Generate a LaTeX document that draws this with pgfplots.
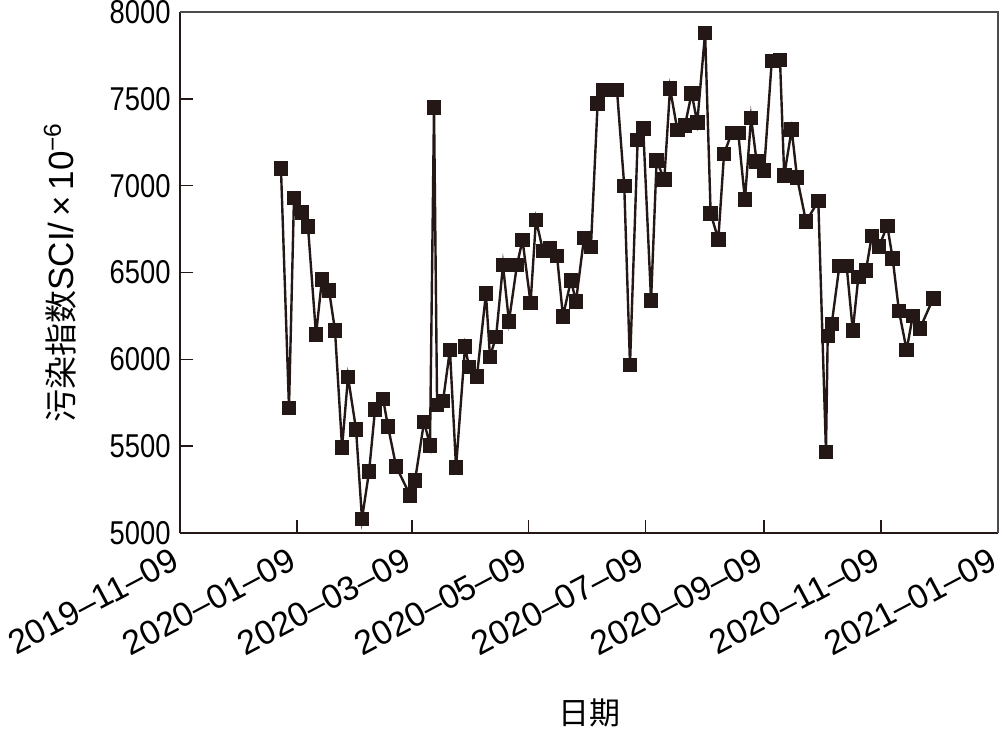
\documentclass[border=0pt]{standalone}
\usepackage{fontspec}
\setmainfont{Liberation Sans}
\newfontfamily\narrowfont{Liberation Sans}[FakeStretch=0.83]
\newfontfamily\cjk{Noto Sans CJK SC}
\usepackage{pgfplots}
\pgfplotsset{compat=1.18}
\definecolor{ink}{HTML}{231815}
\pgfplotstableread{
d v
52.7 7100
56.9 5720
59.5 6930
63.7 6845
66.8 6765
71.0 6142
74.1 6460
77.8 6397
80.9 6168
84.6 5493
87.7 5899
91.9 5597
95.0 5082
98.7 5354
101.8 5710
106.0 5772
108.6 5613
112.8 5384
120.1 5217
122.7 5304
127.4 5640
130.5 5505
132.6 7451
134.2 5737
137.3 5761
140.9 6054
144.1 5378
148.8 6073
150.9 5957
155.0 5902
159.7 6379
161.8 6015
165.0 6130
168.6 6543
171.7 6218
175.9 6543
178.8 6687
183.0 6324
185.8 6804
189.5 6625
193.1 6638
196.8 6596
199.9 6248
204.1 6455
206.7 6333
210.9 6699
214.5 6648
218.0 7473
221.0 7552
224.5 7552
228.1 7552
231.9 6999
234.9 5969
238.9 7264
241.8 7328
245.9 6339
248.8 7145
252.8 7035
255.8 7560
259.6 7322
263.6 7348
267.1 7532
270.0 7363
274.1 7879
277.0 6840
281.0 6691
284.0 7184
288.0 7304
291.4 7304
294.9 6920
298.1 7391
301.0 7139
304.9 7089
308.9 7719
313.2 7725
315.4 7059
319.3 7323
322.1 7047
326.8 6793
333.2 6912
337.2 5468
338.1 6136
340.2 6204
344.2 6537
348.0 6537
351.2 6166
354.1 6474
358.1 6513
361.1 6710
364.9 6650
369.2 6769
372.0 6582
375.3 6278
379.3 6054
382.5 6250
386.3 6179
393.2 6351
}\sci
\begin{document}
\begin{tikzpicture}
\begin{axis}[
  scale only axis, width=409pt, height=260.5pt,
  at={(0,0)}, anchor=south west,
  xmin=0, xmax=427, ymin=5000, ymax=8000,
  axis x line*=bottom, axis y line*=left,
  axis line style={line width=1pt, ink},
  tick align=inside,
  major tick length=6.5pt,
  tick style={line width=0.8pt, ink},
  xtick={0,61,121,182,243,305,366,427},
  xticklabels={2019–11–09,2020–01–09,2020–03–09,2020–05–09,2020–07–09,2020–09–09,2020–11–09,2021–01–09},
  ytick={5000,5500,6000,6500,7000,7500,8000},
  /pgf/number format/assume math mode=true,
  /pgf/number format/1000 sep={},
  xticklabel style={anchor=north east, inner sep=0pt, text depth=0pt, xshift=-5pt, yshift=-6.5pt, rotate=28, font=\fontsize{17}{18}\selectfont},
  yticklabel style={anchor=east, inner sep=0pt, xshift=-4.5pt, font=\narrowfont\fontsize{16.5}{17}\selectfont},
  xlabel={\cjk 日期},
  xlabel style={at={(axis description cs:0.5,-0.3455)}, anchor=center, inner sep=0pt, font=\fontsize{15.5}{16}\selectfont},
  ylabel={{\cjk\fontsize{16.5}{17}\selectfont 污染指数}SCI/\,×\,10\textsuperscript{−6}},
  ylabel style={at={(axis description cs:-0.1467,0.5)}, anchor=center, inner sep=0pt, font=\fontsize{17.5}{18}\selectfont},
  clip=false,
]
\addplot[ink, line width=1.2pt, mark=square*, mark size=3.4pt, mark options={ink, fill=ink, line width=0.4pt}] table[x=d, y=v] {\sci};
\draw[black!70, line width=0.6pt] (rel axis cs:0,1) -- (rel axis cs:1,1) -- (rel axis cs:1,0);
\end{axis}
\pgfresetboundingbox
\path[use as bounding box] (-90pt,-100pt) rectangle (410pt,266.5pt);
\end{tikzpicture}
\end{document}
